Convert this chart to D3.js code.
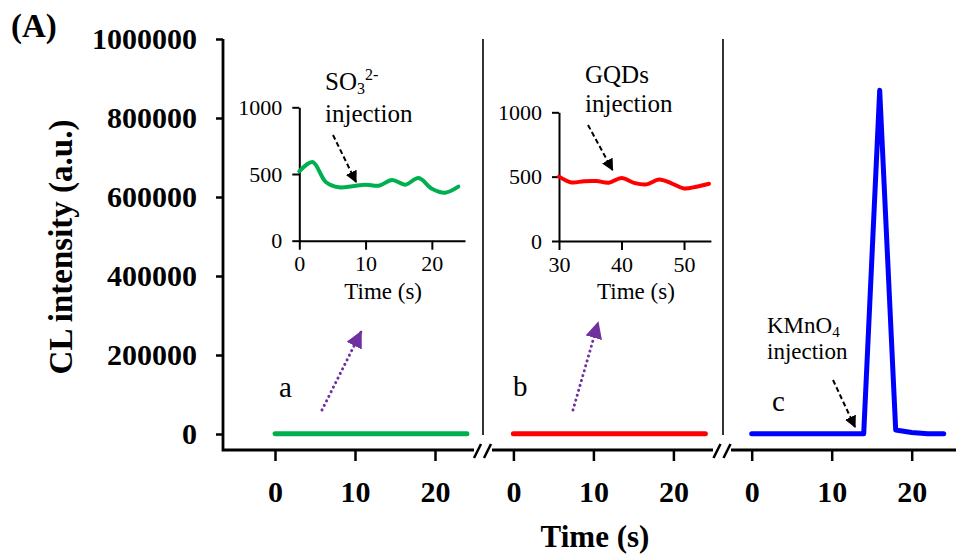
<!DOCTYPE html>
<html><head><meta charset="utf-8">
<script src="https://cdn.jsdelivr.net/npm/d3@7"></script>
<style>
html,body{margin:0;padding:0;background:#fff;}
svg{display:block;font-family:"Liberation Serif","Times New Roman",serif;}
</style></head>
<body>
<svg id="chart" width="956" height="557"></svg>
<script>
// ---------- data ----------
const mainTicksY = [0, 200000, 400000, 600000, 800000, 1000000];
const segTicks = [0, 10, 20];
const segTime = [0, 2, 4, 6, 8, 10, 12, 14, 16, 18, 20, 22, 24];
const insetATime = [0, 2, 4, 6, 8, 10, 12, 14, 16, 18, 20, 22, 24];
const insetAValues = [520, 590, 440, 400, 408, 420, 412, 455, 420, 470, 390, 360, 405];
const insetBTime = [30, 32, 34, 36, 38, 40, 42, 44, 46, 48, 50, 52, 54];
const insetBValues = [500, 455, 465, 466, 453, 490, 452, 440, 478, 448, 408, 422, 445];
const mainCValues = [500, 500, 500, 500, 500, 500, 500, 500, 870000, 10000, 4000, 500, 500];
const insetTicksY = [0, 500, 1000];
const insetATicksX = [0, 10, 20];
const insetBTicksX = [30, 40, 50];
const segLabels = ["a", "b", "c"];

const svg = d3.select("#chart");
const GREEN = "#00B050", RED = "#FF0000", BLUE = "#0000FF", PURPLE = "#7030A0";

// ---------- main scales ----------
const y = d3.scaleLinear().domain([0, 1000000]).range([434, 39]);
const segX0 = [275, 513.4, 751.7];
const segX = segX0.map(x0 => d3.scaleLinear().domain([0, 10]).range([x0, x0 + 80]));

// defs: markers
const defs = svg.append("defs");
defs.append("marker").attr("id", "blackHead").attr("viewBox", "0 0 10 10")
  .attr("refX", 9).attr("refY", 5).attr("markerWidth", 12).attr("markerHeight", 12)
  .attr("markerUnits", "userSpaceOnUse").attr("orient", "auto")
  .append("path").attr("d", "M0,0 L10,5 L0,10 Z").attr("fill", "#000");
defs.append("marker").attr("id", "purpleHead").attr("viewBox", "0 0 10 10")
  .attr("refX", 9).attr("refY", 5).attr("markerWidth", 17).attr("markerHeight", 17)
  .attr("markerUnits", "userSpaceOnUse").attr("orient", "auto")
  .append("path").attr("d", "M0,0 L10,5 L0,10 Z").attr("fill", PURPLE);

// ---------- main y axis ----------
const yAxis = svg.append("g").attr("transform", "translate(223,0)")
  .call(d3.axisLeft(y).tickValues(mainTicksY).tickSize(7).tickPadding(19).tickFormat(d3.format("d")));
yAxis.select(".domain").remove();
yAxis.selectAll(".tick line").attr("stroke", "#000").attr("stroke-width", 2.5);
yAxis.selectAll(".tick text").attr("font-family", "Liberation Serif").attr("font-weight", "bold")
  .attr("font-size", 30).attr("fill", "#000");

// axis lines (with breaks)
const axisPath = svg.append("g").attr("stroke", "#000").attr("stroke-width", 2.8).attr("fill", "none");
axisPath.append("path").attr("d", "M223,39 L223,450 L474,450");
axisPath.append("path").attr("d", "M492,450 L713,450");
axisPath.append("path").attr("d", "M731,450 L956,450");
// break marks
[483, 722.5].forEach(c => {
  [-5, 5].forEach(o => {
    axisPath.append("line").attr("x1", c + o - 4).attr("y1", 458).attr("x2", c + o + 3).attr("y2", 444)
      .attr("stroke-width", 2.5);
  });
});
// separators
[483, 723].forEach(sx => {
  svg.append("line").attr("x1", sx).attr("x2", sx).attr("y1", 39).attr("y2", 435)
    .attr("stroke", "#000").attr("stroke-width", 1.6);
});

// segment x axes
segX.forEach(sc => {
  const g = svg.append("g").attr("transform", "translate(0,450)")
    .call(d3.axisBottom(sc).tickValues(segTicks).tickSize(11).tickPadding(20));
  g.select(".domain").remove();
  g.selectAll(".tick line").attr("stroke", "#000").attr("stroke-width", 2.5);
  g.selectAll(".tick text").attr("font-family", "Liberation Serif").attr("font-weight", "bold")
    .attr("font-size", 30).attr("fill", "#000");
});

// axis titles
svg.append("text").attr("x", 595).attr("y", 547).attr("text-anchor", "middle")
  .attr("font-weight", "bold").attr("font-size", 31).text("Time (s)");
svg.append("text").attr("transform", "translate(72,247) rotate(-90)").attr("text-anchor", "middle")
  .attr("font-weight", "bold").attr("font-size", 33).text("CL intensity (a.u.)");
svg.append("text").attr("x", 11).attr("y", 37).attr("font-weight", "bold").attr("font-size", 33).text("(A)");

// main lines
const mainLine = sc => d3.line().x(d => sc(d[0])).y(d => y(d[1]));
svg.append("path").datum(insetATime.map((t, i) => [t, insetAValues[i]]))
  .attr("d", mainLine(segX[0])).attr("fill", "none").attr("stroke", GREEN)
  .attr("stroke-width", 5).attr("stroke-linecap", "round").attr("stroke-linejoin", "round");
svg.append("path").datum(insetBTime.map((t, i) => [t - 30, insetBValues[i]]))
  .attr("d", mainLine(segX[1])).attr("fill", "none").attr("stroke", RED)
  .attr("stroke-width", 5).attr("stroke-linecap", "round").attr("stroke-linejoin", "round");
svg.append("path").datum(segTime.map((t, i) => [t, mainCValues[i]]))
  .attr("d", mainLine(segX[2])).attr("fill", "none").attr("stroke", BLUE)
  .attr("stroke-width", 5).attr("stroke-linecap", "round").attr("stroke-linejoin", "round");

// segment labels
const segLabelPos = [[279, 397], [513, 396], [772, 411]];
segLabels.forEach((s, i) => {
  svg.append("text").attr("x", segLabelPos[i][0]).attr("y", segLabelPos[i][1])
    .attr("font-size", 29).text(s);
});

// purple dotted arrows
[[322, 410, 361, 332], [573, 410, 598, 323]].forEach(a => {
  svg.append("line").attr("x1", a[0]).attr("y1", a[1]).attr("x2", a[2]).attr("y2", a[3])
    .attr("stroke", PURPLE).attr("stroke-width", 3).attr("stroke-dasharray", "0.1,5")
    .attr("stroke-linecap", "round").attr("marker-end", "url(#purpleHead)");
});

// ---------- insets ----------
function inset(xDom, xRange, yRange, xTicks, times, vals, color) {
  const xs = d3.scaleLinear().domain(xDom).range(xRange);
  const ys = d3.scaleLinear().domain([0, 1000]).range(yRange);
  const gx = svg.append("g").attr("transform", `translate(0,${yRange[0]})`)
    .call(d3.axisBottom(xs).tickValues(xTicks).tickSize(9).tickSizeOuter(0).tickPadding(6)
      .tickFormat(d3.format("d")));
  const gy = svg.append("g").attr("transform", `translate(${xRange[0]},0)`)
    .call(d3.axisLeft(ys).tickValues(insetTicksY).tickSize(7).tickSizeOuter(0).tickPadding(10)
      .tickFormat(d3.format("d")));
  [gx, gy].forEach(g => {
    g.select(".domain").attr("stroke", "#000").attr("stroke-width", 2);
    g.selectAll(".tick line").attr("stroke", "#000").attr("stroke-width", 2);
    g.selectAll(".tick text").attr("font-family", "Liberation Serif").attr("font-size", 22).attr("fill", "#000");
  });
  svg.append("text").attr("x", (xRange[0] + xRange[1]) / 2 + 1).attr("y", yRange[0] + 58)
    .attr("text-anchor", "middle").attr("font-size", 23).text("Time (s)");
  svg.append("path").datum(times.map((t, i) => [t, vals[i]]))
    .attr("d", d3.line().x(d => xs(d[0])).y(d => ys(d[1])).curve(d3.curveCatmullRom))
    .attr("fill", "none").attr("stroke", color).attr("stroke-width", 4)
    .attr("stroke-linecap", "round");
}
inset([0, 25], [299.3, 465], [240.7, 107.3], insetATicksX, insetATime, insetAValues, GREEN);
inset([30, 54.3], [559, 710.9], [241, 112.3], insetBTicksX, insetBTime, insetBValues, RED);

// ---------- annotations ----------
const t1 = svg.append("text").attr("x", 325).attr("y", 90).attr("font-size", 25);
t1.append("tspan").text("SO");
t1.append("tspan").attr("font-size", 16).attr("dy", 4).text("3");
t1.append("tspan").attr("font-size", 16).attr("dy", -14).text("2-");
svg.append("text").attr("x", 325).attr("y", 122).attr("font-size", 25).text("injection");

svg.append("text").attr("x", 585).attr("y", 83).attr("font-size", 25).text("GQDs");
svg.append("text").attr("x", 585).attr("y", 112).attr("font-size", 25).text("injection");

const t3 = svg.append("text").attr("x", 767).attr("y", 333).attr("font-size", 23);
t3.append("tspan").text("KMnO");
t3.append("tspan").attr("font-size", 15).attr("dy", 4).text("4");
svg.append("text").attr("x", 767).attr("y", 359).attr("font-size", 23).text("injection");

[[333, 135, 356, 182], [588, 125, 612.5, 170], [833, 380, 855, 427]].forEach(a => {
  svg.append("line").attr("x1", a[0]).attr("y1", a[1]).attr("x2", a[2]).attr("y2", a[3])
    .attr("stroke", "#000").attr("stroke-width", 2).attr("stroke-dasharray", "5,3")
    .attr("marker-end", "url(#blackHead)");
});
</script>
</body></html>
